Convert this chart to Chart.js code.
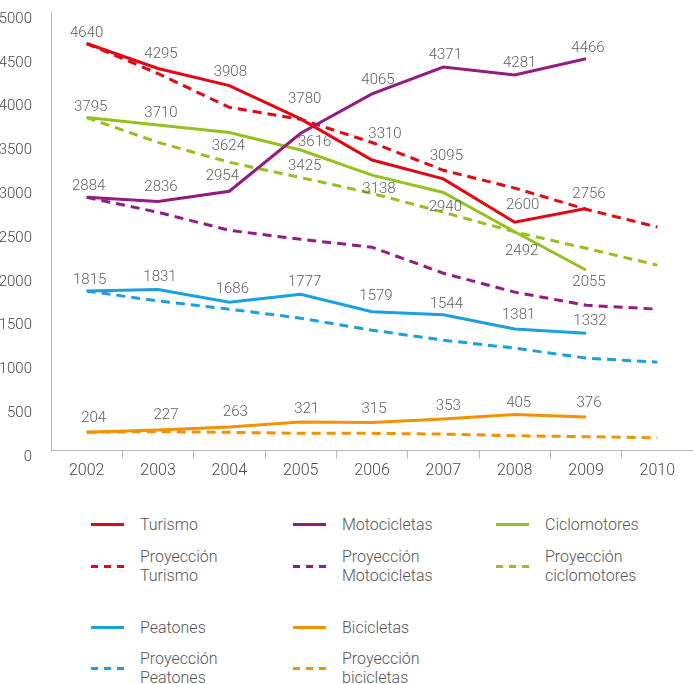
<!DOCTYPE html>
<html>
<head>
<meta charset="utf-8">
<script src="https://cdn.jsdelivr.net/npm/chart.js@4/dist/chart.umd.min.js"></script>
<style>
  body { margin: 0; background: #fff; font-family: Roboto, "Liberation Sans", sans-serif; font-weight: 300; }
  #wrap { position: relative; width: 693px; height: 684px; }
  #grafico { position: absolute; left: 0; top: 0; }
  .muestra { position: absolute; width: 33px; height: 3px; }
  .texto { position: absolute; font-size: 16px; line-height: 19px; color: #555; white-space: pre-line; transform: translateY(-50%); }
</style>
</head>
<body>
<div id="wrap">
  <canvas id="grafico" width="693" height="484"></canvas>
  <div id="leyenda"></div>
</div>
<script>
const anios = ["2002", "2003", "2004", "2005", "2006", "2007", "2008", "2009", "2010"];
const ticksY = [0, 500, 1000, 1500, 2000, 2500, 3000, 3500, 4000, 4500, 5000];

// valores reales (2002-2009)
const turismo = [4640, 4355, 4160, 3780, 3310, 3095, 2600, 2756, null];
const motocicletas = [2884, 2836, 2954, 3616, 4065, 4371, 4281, 4466, null];
const ciclomotores = [3795, 3710, 3624, 3425, 3138, 2940, 2492, 2055, null];
const peatones = [1815, 1831, 1686, 1777, 1579, 1544, 1381, 1332, null];
const bicicletas = [204, 227, 263, 321, 315, 353, 405, 376, null];

// cifras impresas en el grafico (turismo no coincide con su linea en 2003-2004)
const cifrasTurismo = [4640, 4295, 3908, 3780, 3310, 3095, 2600, 2756];

// proyecciones (2002-2010)
const proyTurismo = [4640, 4298, 3911, 3775, 3510, 3193, 2990, 2748, 2545];
const proyMotocicletas = [2884, 2714, 2508, 2405, 2315, 2018, 1802, 1653, 1608];
const proyCiclomotores = [3795, 3512, 3284, 3110, 2930, 2714, 2490, 2303, 2110];
const proyPeatones = [1815, 1702, 1608, 1505, 1368, 1254, 1163, 1049, 1003];
const proyBicicletas = [204, 209, 202, 190, 190, 182, 163, 152, 140];

const rojo = "#e30613", morado = "#951b81", verde = "#95c11f", azul = "#1a9fe0", naranja = "#f39200";

function serie(label, data, color, discontinua) {
  return {
    label: label,
    data: data,
    borderColor: color,
    backgroundColor: color,
    borderWidth: 3,
    borderDash: discontinua ? [9, 6] : [],
    pointRadius: 0,
    tension: 0,
    fill: false,
    order: discontinua ? 2 : 1
  };
}

const datasets = [
  serie("Turismo", turismo, rojo, false),
  serie("Motocicletas", motocicletas, morado, false),
  serie("Ciclomotores", ciclomotores, verde, false),
  serie("Proyección\nTurismo", proyTurismo, rojo, true),
  serie("Proyección\nMotocicletas", proyMotocicletas, morado, true),
  serie("Proyección\nciclomotores", proyCiclomotores, verde, true),
  serie("Peatones", peatones, azul, false),
  serie("Bicicletas", bicicletas, naranja, false),
  serie("Proyección\nPeatones", proyPeatones, azul, true),
  serie("Proyección\nbicicletas", proyBicicletas, naranja, true)
];

// desplazamiento de cada cifra respecto a su punto [dx, dy]
const desplazamientos = {
  0: [[0, -10], [3, -14], [1, -13], [4, -20], [13, -26], [3, -23], [8, -17], [3, -14]],
  1: [[2, -11], [3, -14], [-7, -15], [14, 9], [6, -14], [2, -12], [5, -12], [2, -11]],
  2: [[4, -10], [3, -12], [-1, 14], [4, 16], [7, 14], [2, 15], [7, 20], [3, 12]],
  6: [[3, -11], [2, -12], [3, -13], [4, -12], [4, -15], [3, -10], [4, -14], [4, -12]],
  7: [[7, -14], [8, -15], [6, -15], [6, -13], [2, -13], [5, -13], [4, -11], [3, -14]]
};

const cifras = {
  id: "cifras",
  afterDatasetsDraw(chart) {
    const ctx = chart.ctx;
    ctx.save();
    ctx.font = "300 15px Roboto, 'Liberation Sans', sans-serif";
    ctx.fillStyle = "#5f5f5f";
    ctx.textAlign = "center";
    ctx.textBaseline = "middle";
    Object.keys(desplazamientos).forEach(k => {
      const i = Number(k);
      const meta = chart.getDatasetMeta(i);
      meta.data.forEach((p, j) => {
        const v = chart.data.datasets[i].data[j];
        if (v === null) return;
        const texto = i === 0 ? cifrasTurismo[j] : v;
        const d = desplazamientos[i][j];
        ctx.fillText(String(texto), p.x + d[0], p.y + d[1]);
      });
    });
    ctx.restore();
  }
};

const gris = "#b5b5b5";
const fuente = { family: "Roboto, 'Liberation Sans', sans-serif", size: 15, weight: 300 };

new Chart(document.getElementById("grafico"), {
  type: "line",
  data: { labels: anios, datasets: datasets },
  options: {
    responsive: false,
    animation: false,
    devicePixelRatio: 1,
    layout: { padding: { top: 12, left: 0, right: 0, bottom: 0 } },
    plugins: { legend: { display: false }, tooltip: { enabled: false } },
    scales: {
      x: {
        offset: true,
        grid: {
          display: true,
          offset: true,
          drawOnChartArea: false,
          drawTicks: true,
          tickLength: 8,
          color: c => (c.index === 0 ? "rgba(0,0,0,0)" : gris)
        },
        border: { display: true, color: gris, width: 1 },
        ticks: { color: "#4a4a4a", font: { ...fuente, size: 16 }, padding: 3, maxRotation: 0, autoSkip: false },
        afterFit: s => { s.height = 34; s.paddingLeft = 0; s.paddingRight = 0; }
      },
      y: {
        min: 0,
        max: 5000,
        grid: { display: false },
        border: { display: true, color: gris, width: 1 },
        afterBuildTicks: s => { s.ticks = ticksY.map(v => ({ value: v })); },
        ticks: { color: "#4a4a4a", font: fuente, padding: 11, labelOffset: 7, callback: v => String(v) },
        afterFit: s => { s.width = 51; s.paddingTop = 0; s.paddingBottom = 0; }
      }
    }
  },
  plugins: [cifras]
});

// leyenda en tres columnas
const columnas = [91, 293, 496];
const filas = [524, 566, 627, 668];
const leyenda = document.getElementById("leyenda");
datasets.forEach((d, i) => {
  let fila, col;
  if (i < 6) { fila = Math.floor(i / 3); col = i % 3; }
  else { fila = 2 + Math.floor((i - 6) / 2); col = (i - 6) % 2; }
  const x = columnas[col], y = filas[fila];
  const m = document.createElement("div");
  m.className = "muestra";
  m.style.left = x + "px";
  m.style.top = (y - 1.5) + "px";
  m.style.background = d.borderDash.length
    ? "repeating-linear-gradient(to right, " + d.borderColor + " 0 7px, transparent 7px 13px)"
    : d.borderColor;
  leyenda.appendChild(m);
  const t = document.createElement("div");
  t.className = "texto";
  t.style.left = (x + 49) + "px";
  t.style.top = y + "px";
  t.textContent = d.label;
  leyenda.appendChild(t);
});
</script>
</body>
</html>
